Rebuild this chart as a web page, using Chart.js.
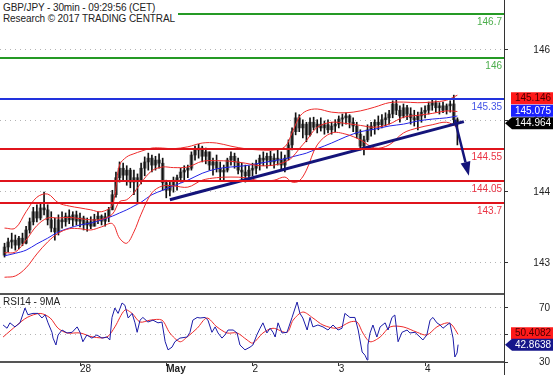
<!DOCTYPE html>
<html>
<head>
<meta charset="utf-8">
<script src="https://cdn.jsdelivr.net/npm/chart.js@4.4.1/dist/chart.umd.min.js"></script>
<style>
    html, body { margin: 0; padding: 0; background: #fff; }
    #wrap { position: relative; width: 553px; height: 375px; overflow: hidden; font-family: "Liberation Sans", Arial, sans-serif; }
    #price { position: absolute; left: 0; top: 0; }
    #rsi { position: absolute; left: 0; top: 293px; }
    .head { position: absolute; left: 0; top: 0; width: 178px; height: 25px; background: #fff; font-size: 10px; line-height: 11px; color: #222; padding: 2px 0 0 3px; box-sizing: border-box; white-space: nowrap; letter-spacing: -0.1px; }
    .rsiTitle { position: absolute; left: 3px; top: 296px; font-size: 10px; color: #222; }
    .rule { position: absolute; background: #555; }
</style>
</head>
<body>
<div id="wrap">
    <canvas id="price" width="553" height="293"></canvas>
    <canvas id="rsi" width="553" height="82"></canvas>
    <div class="head">GBP/JPY - 30min - 09:29:56 (CET)<br>Research © 2017 TRADING CENTRAL</div>
    <div class="rsiTitle">RSI14 - 9MA</div>
    <div class="rule" style="left:0;top:293px;width:505px;height:2px"></div>
    <div class="rule" style="left:0;top:361px;width:505px;height:2px"></div>
    <div class="rule" style="left:504px;top:0;width:1px;height:375px;background:#333"></div>
</div>
<script>
// hours counted from 28 Apr 00:00 (weekend skipped), one bar per hour
const firstHour = -21;
const highs = [143.06, 143.14, 143.22, 143.19, 143.17, 143.22, 143.33, 143.46, 143.63, 143.67, 143.70, 143.87, 143.67, 143.56, 143.46, 143.51, 143.56, 143.54, 143.59, 143.56, 143.57,
    143.54, 143.49, 143.46, 143.48, 143.52, 143.56, 143.51, 143.54, 143.63, 143.90, 144.19, 144.35, 144.33, 144.29, 144.25, 144.22, 144.16, 144.33, 144.43, 144.49, 144.46, 144.44, 144.48, 144.41,
    144.06, 144.03, 144.11, 144.14, 144.25, 144.29, 144.30, 144.51, 144.60, 144.63, 144.60, 144.57, 144.51, 144.41, 144.46, 144.35, 144.30, 144.41, 144.51, 144.49, 144.41, 144.33, 144.30, 144.29,
    144.33, 144.38, 144.46, 144.51, 144.49, 144.52, 144.48, 144.54, 144.51, 144.46, 144.70, 144.89, 145.13, 145.10, 145.02, 144.98, 145.05, 145.06, 145.02, 145.05, 145.00, 145.02, 144.98, 145.02,
    145.08, 145.11, 145.13, 145.10, 145.05, 144.98, 144.86, 144.76, 144.94, 144.98, 145.02, 145.08, 145.10, 145.13, 145.17, 145.32, 145.33, 145.24, 145.27, 145.25, 145.21, 145.17, 145.14, 145.21,
    145.24, 145.30, 145.33, 145.32, 145.29, 145.30, 145.27, 145.32, 145.41, 145.05];
const lows = [142.84, 142.92, 142.98, 142.95, 142.97, 143.02, 143.05, 143.22, 143.35, 143.40, 143.43, 143.51, 143.35, 143.24, 143.11, 143.19, 143.30, 143.33, 143.37, 143.33, 143.35,
    143.32, 143.27, 143.25, 143.29, 143.33, 143.37, 143.35, 143.33, 143.40, 143.59, 143.79, 144.03, 144.06, 143.98, 143.94, 143.83, 143.70, 144.00, 144.13, 144.22, 144.19, 144.22, 144.25, 143.90,
    143.78, 143.81, 143.87, 143.90, 144.03, 144.06, 144.10, 144.22, 144.38, 144.41, 144.35, 144.32, 144.22, 144.14, 144.19, 144.06, 144.06, 144.19, 144.30, 144.25, 144.16, 144.06, 144.03, 144.10,
    144.13, 144.16, 144.22, 144.29, 144.25, 144.29, 144.25, 144.30, 144.22, 144.19, 144.38, 144.54, 144.78, 144.83, 144.73, 144.67, 144.76, 144.86, 144.81, 144.84, 144.79, 144.81, 144.79, 144.83,
    144.89, 144.92, 144.95, 144.89, 144.83, 144.73, 144.54, 144.46, 144.67, 144.76, 144.79, 144.86, 144.89, 144.92, 144.95, 145.05, 145.10, 144.98, 145.05, 145.02, 144.95, 144.92, 144.86, 144.98,
    145.05, 145.11, 145.17, 145.14, 145.11, 145.13, 145.11, 145.14, 144.94, 144.62];
const opens = [142.87, 143.00, 143.08, 143.11, 143.03, 143.14, 143.06, 143.27, 143.40, 143.56, 143.46, 143.62, 143.59, 143.43, 143.30, 143.24, 143.43, 143.40, 143.49, 143.43, 143.51,
    143.41, 143.46, 143.35, 143.40, 143.33, 143.44, 143.49, 143.41, 143.48, 143.59, 143.83, 144.10, 144.25, 144.14, 144.22, 144.03, 144.10, 144.06, 144.25, 144.35, 144.41, 144.30, 144.38, 144.33,
    144.02, 143.90, 143.98, 144.06, 144.10, 144.19, 144.22, 144.25, 144.46, 144.54, 144.57, 144.44, 144.51, 144.30, 144.35, 144.25, 144.19, 144.22, 144.38, 144.44, 144.35, 144.22, 144.19, 144.13,
    144.22, 144.25, 144.32, 144.41, 144.38, 144.44, 144.35, 144.41, 144.38, 144.30, 144.41, 144.62, 144.83, 145.05, 144.89, 144.95, 144.78, 144.98, 144.90, 144.95, 144.89, 144.94, 144.86, 144.92,
    144.95, 145.03, 145.05, 145.08, 144.98, 144.92, 144.79, 144.60, 144.70, 144.86, 144.92, 144.98, 144.94, 145.02, 145.05, 145.11, 145.27, 145.17, 145.08, 145.21, 145.11, 145.05, 145.02, 145.08,
    145.14, 145.17, 145.25, 145.29, 145.21, 145.24, 145.17, 145.24, 145.27, 145.02];
const closes = [143.00, 143.08, 143.11, 143.03, 143.14, 143.06, 143.27, 143.40, 143.56, 143.46, 143.62, 143.59, 143.43, 143.30, 143.24, 143.43, 143.40, 143.49, 143.43, 143.51, 143.41,
    143.46, 143.35, 143.40, 143.33, 143.44, 143.49, 143.41, 143.48, 143.59, 143.83, 144.10, 144.25, 144.14, 144.22, 144.03, 144.10, 144.06, 144.25, 144.35, 144.41, 144.30, 144.38, 144.33, 144.02,
    143.90, 143.98, 144.06, 144.10, 144.19, 144.22, 144.25, 144.46, 144.54, 144.57, 144.44, 144.51, 144.30, 144.35, 144.25, 144.19, 144.22, 144.38, 144.44, 144.35, 144.22, 144.19, 144.13, 144.22,
    144.25, 144.32, 144.41, 144.38, 144.44, 144.35, 144.41, 144.38, 144.30, 144.41, 144.62, 144.83, 145.05, 144.89, 144.95, 144.78, 144.98, 144.90, 144.95, 144.89, 144.94, 144.86, 144.92, 144.95,
    145.03, 145.05, 145.08, 144.98, 144.92, 144.79, 144.60, 144.70, 144.86, 144.92, 144.98, 144.94, 145.02, 145.05, 145.11, 145.27, 145.17, 145.08, 145.21, 145.11, 145.05, 145.02, 145.08, 145.14,
    145.17, 145.25, 145.29, 145.21, 145.24, 145.17, 145.24, 145.27, 145.02, 144.96];

// indicator readings (sampled)
const bandHours = [-21, -18, -15, -12, -9, -6, -3, 0, 3, 6, 9, 11, 13, 15, 17, 20, 23, 26, 30, 34, 38, 42, 46, 50, 54, 57, 59, 61, 63, 66, 70, 74, 78, 82, 86, 90, 94, 98, 102, 105];
const bbUpper = [143.30, 143.30, 143.56, 143.79, 143.84, 143.70, 143.65, 143.62, 143.59, 143.56, 143.67, 144.30, 144.43, 144.48, 144.52, 144.57, 144.57, 144.56, 144.59, 144.65,
    144.65, 144.60, 144.56, 144.54, 144.54, 144.59, 144.81, 145.06, 145.16, 145.19, 145.14, 145.13, 145.16, 145.22, 145.29, 145.30, 145.29, 145.30, 145.33, 145.41];
const bbMiddle = [142.91, 142.92, 143.11, 143.34, 143.46, 143.46, 143.47, 143.45, 143.43, 143.44, 143.52, 143.72, 143.75, 143.86, 144.02, 144.21, 144.27, 144.26, 144.27, 144.36,
    144.37, 144.36, 144.33, 144.29, 144.30, 144.35, 144.42, 144.56, 144.69, 144.90, 144.98, 144.96, 144.93, 144.90, 144.95, 145.06, 145.09, 145.12, 145.16, 145.15];
const bbLower = [142.52, 142.54, 142.67, 142.89, 143.08, 143.22, 143.29, 143.29, 143.27, 143.32, 143.37, 143.14, 143.06, 143.24, 143.52, 143.86, 143.97, 143.97, 143.95, 144.06,
    144.10, 144.11, 144.10, 144.05, 144.06, 144.11, 144.03, 144.05, 144.22, 144.62, 144.81, 144.79, 144.70, 144.57, 144.62, 144.81, 144.89, 144.94, 144.98, 144.90];
const ma50 = [142.86, 142.90, 142.95, 143.05, 143.14, 143.24, 143.30, 143.35, 143.38, 143.43, 143.49, 143.54, 143.59, 143.65, 143.71, 143.83, 143.90, 143.97, 144.06, 144.17,
    144.24, 144.27, 144.29, 144.33, 144.37, 144.40, 144.43, 144.46, 144.49, 144.56, 144.65, 144.75, 144.83, 144.87, 144.92, 144.95, 145.00, 145.03, 145.05, 145.08];

const levelValues = [146.7, 146, 145.35, 144.55, 144.05, 143.7];
const trendHours = [25, 106.8];
const trendPrices = [143.75, 144.99];
const arrowHours = [104.3, 108.2];
const arrowPrices = [145.02, 144.13];
const lastPrice = 144.964;
const lastMa20 = 145.146;
const lastMa50 = 145.075;
const priceTicks = [143, 144, 145, 146];

const rsiHours = [-21.4, -20.3, -19.5, -18.1, -16.7, -15.3, -14.5, -13.1, -11.7, -10.6, -9.7, -8.9, -7.8, -7.5, -6.7, -6.1, -5.0, -3.6, -2.2, -0.8, 0, 0.8, 1.9, 3.3, 4.7, 6.1, 7.5, 8.3,
    8.9, 9.7, 10.6, 11.7, 12.5, 13.4, 14.5, 15.3, 15.9, 16.7, 17.5, 18.9, 20.3, 21.7, 22.8, 23.7, 24.5, 25.6, 26.4, 27.8, 29.8, 30.6, 31.4, 32.6, 33.4, 34.8, 35.6, 36.7, 37.6, 38.4,
    39.5, 40.3, 41.2, 42.6, 43.7, 44.5, 45.9, 47.3, 48.1, 49.2, 50.1, 50.9, 52.0, 52.9, 53.7, 54.3, 55.1, 56.2, 57.6, 59.0, 60.4, 61.2, 62.0, 63.2, 64.0, 64.8, 66.2, 67.6, 69.0, 70.4,
    71.8, 72.9, 73.7, 75.1, 76.5, 77.4, 78.5, 79.3, 79.9, 80.1, 80.7, 81.5, 82.6, 83.5, 84.9, 85.7, 86.8, 87.6, 88.5, 89.6, 91.0, 91.8, 93.2, 94.6, 95.4, 96.5, 97.4, 98.2, 99.3, 100.2,
    101.0, 102.1, 102.9, 103.8, 104.3, 104.9, 105.2];
const rsiValues = [57.4, 55, 59, 56, 59, 70, 65, 66, 66, 62.6, 65, 59, 52, 47.7, 42.6, 50, 53.7, 51.5, 52, 56, 52, 45, 50, 47.7, 50, 47.7, 48.5, 46.3,
    63, 70, 66, 73.7, 72, 62.6, 66, 59, 52, 61, 63, 59.6, 61, 59, 59.6, 45, 39, 41, 45, 47.7, 48.5, 52, 61, 63, 62.6, 63, 61, 52, 56, 51.5,
    47.7, 50, 53.7, 53.7, 51.5, 42.6, 39, 41, 42.6, 50, 55, 59, 51.5, 55, 52, 48.5, 59, 51.5, 52, 63, 74.4, 66, 62.6, 53.7, 63, 56, 57.4, 56, 53.7, 57.4,
    53.7, 55, 66, 63, 63, 53.7, 37.4, 35, 31.5, 42.6, 51.5, 57.4, 48.5, 56, 59, 53.7, 63, 64.8, 45, 52, 53.7, 51.5, 52, 48.5, 46.3, 50, 61, 63, 59, 57.4,
    55, 57.4, 59, 47.7, 33.7, 36.7, 42.86];
const rsiMaHours = [-21.4, -17.5, -14.7, -11.1, -8.3, -6.1, -3.6, 0, 3.6, 7.5, 9.7, 12.5, 14.5, 16.7, 19.5, 22.8, 25.0, 27.8, 29.8, 32.6, 35.3, 38.1, 40.9, 43.7, 46.5, 48.1,
    50.9, 53.7, 57.6, 59.3, 62.0, 64.8, 67.6, 71.5, 75.1, 77.1, 78.7, 80.7, 83.5, 86.3, 89.9, 93.8, 96.5, 99.3, 102.1, 103.5, 105.2];
const rsiMaValues = [48.5, 57.4, 63, 66, 62.6, 55, 51.5, 51.5, 48.5, 48.5, 56, 68.5, 66, 59.6, 61, 61, 51.5, 45, 48.5, 55, 62.6, 56, 51.5, 51.5, 46.3, 44,
    51.5, 55, 52, 61, 67, 62.6, 57.4, 55, 59.6, 59.6, 51.5, 45, 48.5, 56, 56, 52, 50, 56, 59, 57.4, 50.41];
const rsiLast = 42.8638;
const rsiMaLast = 50.4082;
const rsiTicks = [30, 50, 70];

const dayHours = [0, 24, 48, 72, 96];
const dayLabels = ['28', 'May', '2', '3', '4'];

// visible window, hours
const xMin = -22.26;
const xMax = 117.97;

const FONT = '"Liberation Sans", Arial, sans-serif';
const levelColors = ['#259a25', '#259a25', '#2233dd', '#e0141c', '#e0141c', '#e0141c'];
const levelTextColors = ['#4cae4c', '#4cae4c', '#4455e6', '#ea3344', '#ea3344', '#ea3344'];

const points = (xs, ys) => xs.map((h, i) => ({x: h, y: ys[i]}));

// drop the half-label padding chart.js keeps around axes
const noPad = (s) => {
    s.paddingTop = 0;
    s.paddingBottom = 0;
    s.paddingLeft = 0;
    s.paddingRight = 0;
};

function valueBox(ctx, left, right, cy, bg, fg, text, pointer) {
    ctx.fillStyle = bg;
    ctx.beginPath();
    if (pointer) {
        ctx.moveTo(left - 6, cy);
        ctx.lineTo(left + 1, cy - 6);
    } else {
        ctx.moveTo(left, cy - 6);
    }
    ctx.lineTo(right, cy - 6);
    ctx.lineTo(right, cy + 6);
    ctx.lineTo(pointer ? left + 1 : left, cy + 6);
    ctx.closePath();
    ctx.fill();
    ctx.fillStyle = fg;
    ctx.font = '10px ' + FONT;
    ctx.textAlign = 'center';
    ctx.textBaseline = 'middle';
    ctx.fillText(text, (left + right) / 2 + 1, cy + 0.5);
}

const priceOverlay = {
    id: 'priceOverlay',
    afterDatasetsDraw(chart) {
        const {ctx, chartArea, scales: {x, y}} = chart;
        ctx.save();

        // support / resistance levels
        levelValues.forEach((v, i) => {
            const py = Math.round(y.getPixelForValue(v));
            ctx.strokeStyle = levelColors[i];
            ctx.lineWidth = 2;
            ctx.beginPath();
            ctx.moveTo(chartArea.left, py);
            ctx.lineTo(chartArea.right, py);
            ctx.stroke();
            ctx.fillStyle = levelTextColors[i];
            ctx.font = '10px ' + FONT;
            ctx.textAlign = 'right';
            ctx.textBaseline = 'middle';
            ctx.fillText(String(v), chartArea.right - 2, py + 8);
        });

        // forecast arrow
        const x0 = x.getPixelForValue(arrowHours[0]);
        const y0 = y.getPixelForValue(arrowPrices[0]);
        const x1 = x.getPixelForValue(arrowHours[1]);
        const y1 = y.getPixelForValue(arrowPrices[1]);
        const len = Math.hypot(x1 - x0, y1 - y0);
        const ux = (x1 - x0) / len, uy = (y1 - y0) / len;
        const bx = x1 - ux * 14, by = y1 - uy * 14;
        ctx.strokeStyle = '#14147a';
        ctx.lineWidth = 2.5;
        ctx.beginPath();
        ctx.moveTo(x0, y0);
        ctx.lineTo(bx, by);
        ctx.stroke();
        ctx.fillStyle = '#14147a';
        ctx.beginPath();
        ctx.moveTo(x1, y1);
        ctx.lineTo(bx - uy * 5, by + ux * 5);
        ctx.lineTo(bx + uy * 5, by - ux * 5);
        ctx.closePath();
        ctx.fill();
        ctx.restore();
    },
    afterDraw(chart) {
        const {ctx, chartArea, scales: {y}} = chart;
        const left = chartArea.right + 7, right = chart.width;
        const cyPrice = y.getPixelForValue(lastPrice);
        const cyMa50 = Math.min(y.getPixelForValue(lastMa50), cyPrice - 12.5);
        const cyMa20 = Math.min(y.getPixelForValue(lastMa20), cyMa50 - 12.5);
        ctx.save();
        valueBox(ctx, left, right, cyMa20, '#ff1a1a', '#4a0000', lastMa20.toFixed(3), false);
        valueBox(ctx, left, right, cyMa50, '#1a22ff', '#ffffff', lastMa50.toFixed(3), false);
        valueBox(ctx, left, right, cyPrice, '#000000', '#ffffff', lastPrice.toFixed(3), true);
        ctx.restore();
    }
};

const rsiOverlay = {
    id: 'rsiOverlay',
    afterDraw(chart) {
        const {ctx, chartArea, scales: {y}} = chart;
        const left = chartArea.right + 7, right = chart.width;
        const cyRsi = y.getPixelForValue(rsiLast);
        const cyMa = Math.min(y.getPixelForValue(rsiMaLast), cyRsi - 11.5);
        ctx.save();
        valueBox(ctx, left, right, cyMa, '#ff1a1a', '#4a0000', rsiMaLast.toFixed(4), false);
        valueBox(ctx, left, right, cyRsi, '#16168a', '#ffffff', rsiLast.toFixed(4), true);
        ctx.restore();
    }
};

const candleIdx = highs.map((_, i) => firstHour + i);

new Chart(document.getElementById('price'), {
    type: 'line',
    data: {
        datasets: [
            {
                type: 'line', data: points(trendHours, trendPrices), order: 0,
                borderColor: '#14147a', borderWidth: 3, pointRadius: 0
            },
            {
                type: 'line', data: points(bandHours, bbUpper), order: 1,
                borderColor: '#ee2a2a', borderWidth: 1, pointRadius: 0, tension: 0.35
            },
            {
                type: 'line', data: points(bandHours, bbMiddle), order: 1,
                borderColor: '#ee2a2a', borderWidth: 1, pointRadius: 0, tension: 0.35
            },
            {
                type: 'line', data: points(bandHours, bbLower), order: 1,
                borderColor: '#ee2a2a', borderWidth: 1, pointRadius: 0, tension: 0.35
            },
            {
                type: 'line', data: points(bandHours, ma50), order: 1,
                borderColor: '#2323e6', borderWidth: 1, pointRadius: 0, tension: 0.35
            },
            {
                type: 'bar', order: 2, grouped: false, barThickness: 1,
                data: candleIdx.map((h, i) => ({x: h, y: [lows[i], highs[i]]})),
                backgroundColor: '#111111'
            },
            {
                type: 'bar', order: 3, grouped: false, barThickness: 3,
                data: candleIdx.map((h, i) => ({x: h, y: [opens[i], closes[i]]})),
                backgroundColor: '#6e6e6e', borderWidth: 0
            }
        ]
    },
    options: {
        responsive: false,
        animation: false,
        layout: {padding: {top: 0, right: 3, bottom: 0, left: 0}},
        plugins: {legend: {display: false}, tooltip: {enabled: false}},
        scales: {
            x: {type: 'linear', min: xMin, max: xMax, display: false, offset: false},
            y: {type: 'linear', min: 142.27, max: 146.92, display: false},
            yt: {
                type: 'linear', position: 'right', min: 142.577, max: 146.704,
                afterBuildTicks: (s) => { s.ticks = priceTicks.map((v) => ({value: v})); },
                afterFit: (s) => { s.width = 46; noPad(s); },
                grid: {color: '#b4b4b4', drawTicks: true, tickLength: 4, tickColor: '#333', tickBorderDash: []},
                border: {display: false, dash: [1, 4]},
                ticks: {font: {family: FONT, size: 10}, color: '#222', crossAlign: 'far', padding: 0}
            }
        }
    },
    plugins: [priceOverlay]
});

new Chart(document.getElementById('rsi'), {
    type: 'line',
    data: {
        datasets: [
            {
                data: points(rsiMaHours, rsiMaValues), order: 1,
                borderColor: '#ee2a2a', borderWidth: 1, pointRadius: 0, tension: 0.3
            },
            {
                data: points(rsiHours, rsiValues), order: 0,
                borderColor: '#1c1ca8', borderWidth: 1, pointRadius: 0, tension: 0
            }
        ]
    },
    options: {
        responsive: false,
        animation: false,
        layout: {padding: {top: 1, right: 3, bottom: 0, left: 0}},
        plugins: {legend: {display: false}, tooltip: {enabled: false}},
        scales: {
            x: {
                type: 'linear', min: xMin, max: xMax, offset: false,
                afterBuildTicks: (s) => { s.ticks = dayHours.map((v) => ({value: v})); },
                afterFit: (s) => { s.height = 13; noPad(s); },
                grid: {drawOnChartArea: false, drawTicks: true, tickLength: 4, tickColor: '#333'},
                border: {display: false},
                ticks: {
                    callback: (v, i) => dayLabels[i],
                    font: (c) => ({family: FONT, size: 10, weight: dayLabels[c.index] === 'May' ? 'bold' : 'normal'}),
                    color: '#222', align: 'start', padding: -3, maxRotation: 0, autoSkip: false
                }
            },
            y: {
                type: 'linear', position: 'right', min: 30, max: 80.37,
                afterBuildTicks: (s) => { s.ticks = rsiTicks.map((v) => ({value: v})); },
                afterFit: (s) => { s.width = 46; noPad(s); },
                grid: {color: '#b4b4b4', drawTicks: true, tickLength: 4, tickColor: '#333', tickBorderDash: []},
                border: {display: false, dash: [1, 4]},
                ticks: {font: {family: FONT, size: 10}, color: '#222', crossAlign: 'far', padding: 0}
            }
        }
    },
    plugins: [rsiOverlay]
});
</script>
</body>
</html>
